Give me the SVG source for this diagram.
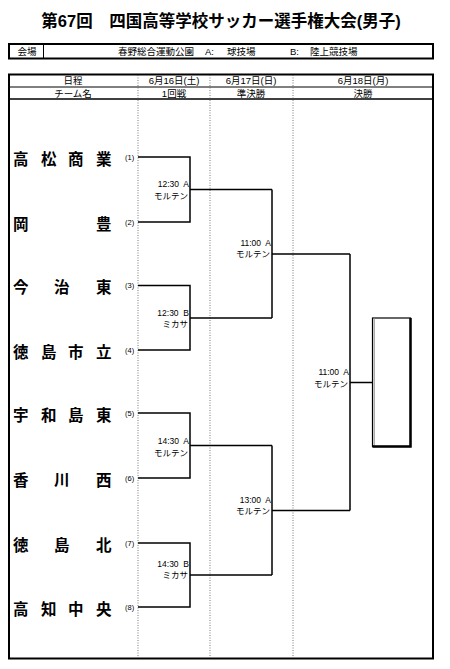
<svg xmlns="http://www.w3.org/2000/svg" width="450" height="669" viewBox="0 0 450 669">
<style>
text{font-family:"Liberation Sans","Noto Sans CJK JP",sans-serif;fill:#000}
.title{font-size:16.5px;font-weight:bold}
.hd{font-size:9.5px;text-anchor:middle}
.team{font-size:15.5px;font-weight:bold;font-family:"Noto Sans CJK JP",sans-serif}
.num{font-size:7.5px}
.lbl{font-size:8.5px;text-anchor:end;white-space:pre}
.frame{fill:none;stroke:#000;stroke-width:2}
.thin{fill:none;stroke:#000;stroke-width:1}
.dot{fill:none;stroke:#555;stroke-width:0.8;stroke-dasharray:1 1.5}
.br{fill:none;stroke:#000;stroke-width:1.5}
</style>
<rect width="450" height="669" fill="#fff"/>
<text class="title" x="221" y="27" text-anchor="middle">第67回　四国高等学校サッカー選手権大会(男子)</text>
<g id="venue">
<rect class="frame" x="9" y="44" width="424" height="14.5"/>
<line class="thin" x1="43.5" y1="44" x2="43.5" y2="58.5"/>
<text class="hd" x="27" y="55">会場</text>
<text class="hd" style="text-anchor:start" y="55"><tspan x="118">春野総合運動公園</tspan><tspan x="205">A:</tspan><tspan x="227">球技場</tspan><tspan x="290">B:</tspan><tspan x="310">陸上競技場</tspan></text>
</g>
<g id="table">
<rect class="frame" x="9" y="74.5" width="424" height="584"/>
<line class="thin" x1="9" y1="87" x2="433" y2="87"/>
<line class="br" x1="9" y1="99" x2="433" y2="99"/>
<line class="dot" x1="138" y1="75" x2="138" y2="658"/>
<line class="dot" x1="210" y1="75" x2="210" y2="658"/>
<line class="dot" x1="293" y1="75" x2="293" y2="658"/>
<text class="hd" x="73" y="84">日程</text>
<text class="hd" x="174" y="84">6月16日(土)</text>
<text class="hd" x="251" y="84">6月17日(日)</text>
<text class="hd" x="363" y="84">6月18日(月)</text>
<text class="hd" x="73" y="96.5">チーム名</text>
<text class="hd" x="174" y="96.5">1回戦</text>
<text class="hd" x="251" y="96.5">準決勝</text>
<text class="hd" x="363" y="96.5">決勝</text>
</g>
<g id="team1"><text class="team" x="13 41 68 96" y="164.5">高松商業</text><text class="num" x="125" y="159.5">(1)</text></g>
<g id="team2"><text class="team" x="13 96" y="229.5">岡豊</text><text class="num" x="125" y="224.5">(2)</text></g>
<g id="team3"><text class="team" x="13 54 96" y="293">今治東</text><text class="num" x="125" y="288">(3)</text></g>
<g id="team4"><text class="team" x="13 41 68 96" y="357.5">徳島市立</text><text class="num" x="125" y="352.5">(4)</text></g>
<g id="team5"><text class="team" x="13 41 68 96" y="421">宇和島東</text><text class="num" x="125" y="416">(5)</text></g>
<g id="team6"><text class="team" x="13 54 96" y="486">香川西</text><text class="num" x="125" y="481">(6)</text></g>
<g id="team7"><text class="team" x="13 54 96" y="550.5">徳島北</text><text class="num" x="125" y="545.5">(7)</text></g>
<g id="team8"><text class="team" x="13 41 68 96" y="614.5">高知中央</text><text class="num" x="125" y="609.5">(8)</text></g>
<g id="connectors">
<path class="br" d="M138,157 H190 V222 H138 M190,189.5 H272"/>
<path class="br" d="M138,285.5 H190 V350 H138 M190,318 H272"/>
<path class="br" d="M272,189.5 V318 M272,254 H350"/>
<path class="br" d="M138,413 H190 V478 H138 M190,445.5 H272"/>
<path class="br" d="M138,543 H190 V607 H138 M190,575 H272"/>
<path class="br" d="M272,445.5 V575 M272,510.5 H350"/>
<path class="br" d="M350,254 V510.5 M350,382.5 H372"/>
</g>
<g id="labels">
<text class="lbl" x="189" y="187">12:30  A</text><text class="lbl" x="188" y="199">モルテン</text>
<text class="lbl" x="189" y="316">12:30  B</text><text class="lbl" x="188" y="327">ミカサ</text>
<text class="lbl" x="271" y="246">11:00  A</text><text class="lbl" x="270" y="257">モルテン</text>
<text class="lbl" x="189" y="444">14:30  A</text><text class="lbl" x="188" y="456">モルテン</text>
<text class="lbl" x="189" y="567">14:30  B</text><text class="lbl" x="188" y="578">ミカサ</text>
<text class="lbl" x="271" y="503">13:00  A</text><text class="lbl" x="270" y="514">モルテン</text>
<text class="lbl" x="349" y="375">11:00  A</text><text class="lbl" x="348" y="387">モルテン</text>
</g>
<g id="champion">
<rect x="372.5" y="318" width="38" height="128.5" fill="#fff" stroke="#000" stroke-width="1.2"/>
<line x1="374.2" y1="318" x2="374.2" y2="446.5" stroke="#888" stroke-width="1"/>
<path d="M410.5,318 V446.5 H372.5" fill="none" stroke="#000" stroke-width="2.5"/>
</g>
</svg>
